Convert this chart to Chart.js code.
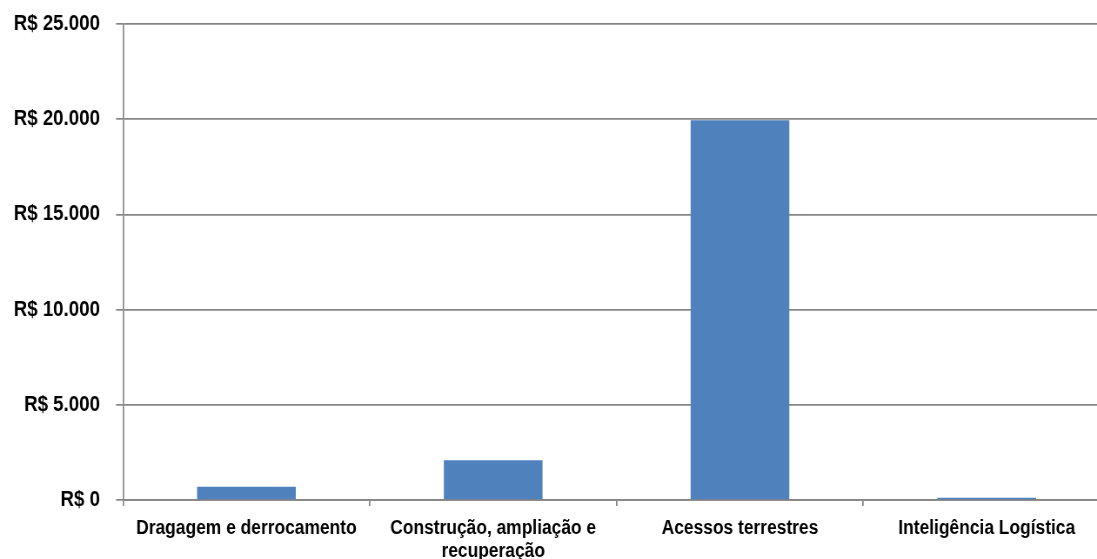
<!DOCTYPE html>
<html>
<head>
<meta charset="utf-8">
<script src="https://cdn.jsdelivr.net/npm/chart.js@4"></script>
<style>
  html, body { margin: 0; padding: 0; background: #fff; overflow: hidden; }
  /* the chart is drawn wide and narrowed horizontally, giving condensed lettering */
  #wrap { position: relative; width: 1280px; height: 559px; transform: scaleX(0.87); transform-origin: 0 0; }
</style>
</head>
<body>
<div id="wrap"><canvas id="c" width="1280" height="559"></canvas></div>
<script>
// Investimentos por categoria (R$)
const categories = [
  'Dragagem e derrocamento',
  ['Construção, ampliação e', 'recuperação'],
  'Acessos terrestres',
  'Inteligência Logística'
];
const values = [700, 2090, 19950, 120];
const yTicks = [0, 5000, 10000, 15000, 20000, 25000];

const fmt = v => 'R$ ' + v.toLocaleString('pt-BR');
const family = '"Liberation Sans", Arial, sans-serif';
const gridColor = '#868686';

new Chart(document.getElementById('c'), {
  type: 'bar',
  data: {
    labels: categories,
    datasets: [{
      data: values,
      backgroundColor: '#4F81BD',
      borderWidth: 0,
      categoryPercentage: 1,
      barPercentage: 0.40
    }]
  },
  options: {
    responsive: false,
    animation: false,
    layout: { padding: { top: 24, right: 4, left: 0, bottom: 0 } },
    plugins: { legend: { display: false }, tooltip: { enabled: false } },
    scales: {
      x: {
        grid: { drawOnChartArea: false, drawTicks: true, tickLength: 6, color: gridColor, lineWidth: 1.7, offset: true },
        border: { color: gridColor, width: 1.7 },
        ticks: { color: '#000', font: { family, size: 20, weight: 'bold', lineHeight: 1.18 }, padding: 10.5, maxRotation: 0, autoSkip: false },
        afterFit: s => { s.height = 59; s.paddingLeft = 0; s.paddingRight = 0; }
      },
      y: {
        min: 0, max: 25000,
        afterBuildTicks: s => { s.ticks = yTicks.map(v => ({ value: v })); },
        grid: { color: gridColor, lineWidth: 1.7, tickLength: 8 },
        border: { color: gridColor, width: 1.7 },
        ticks: { color: '#000', font: { family, size: 21.5, weight: 'bold' }, padding: 18.5, callback: v => fmt(v) },
        afterFit: s => { s.width = 141.4; s.paddingTop = 0; s.paddingBottom = 0; }
      }
    }
  }
});
</script>
</body>
</html>
